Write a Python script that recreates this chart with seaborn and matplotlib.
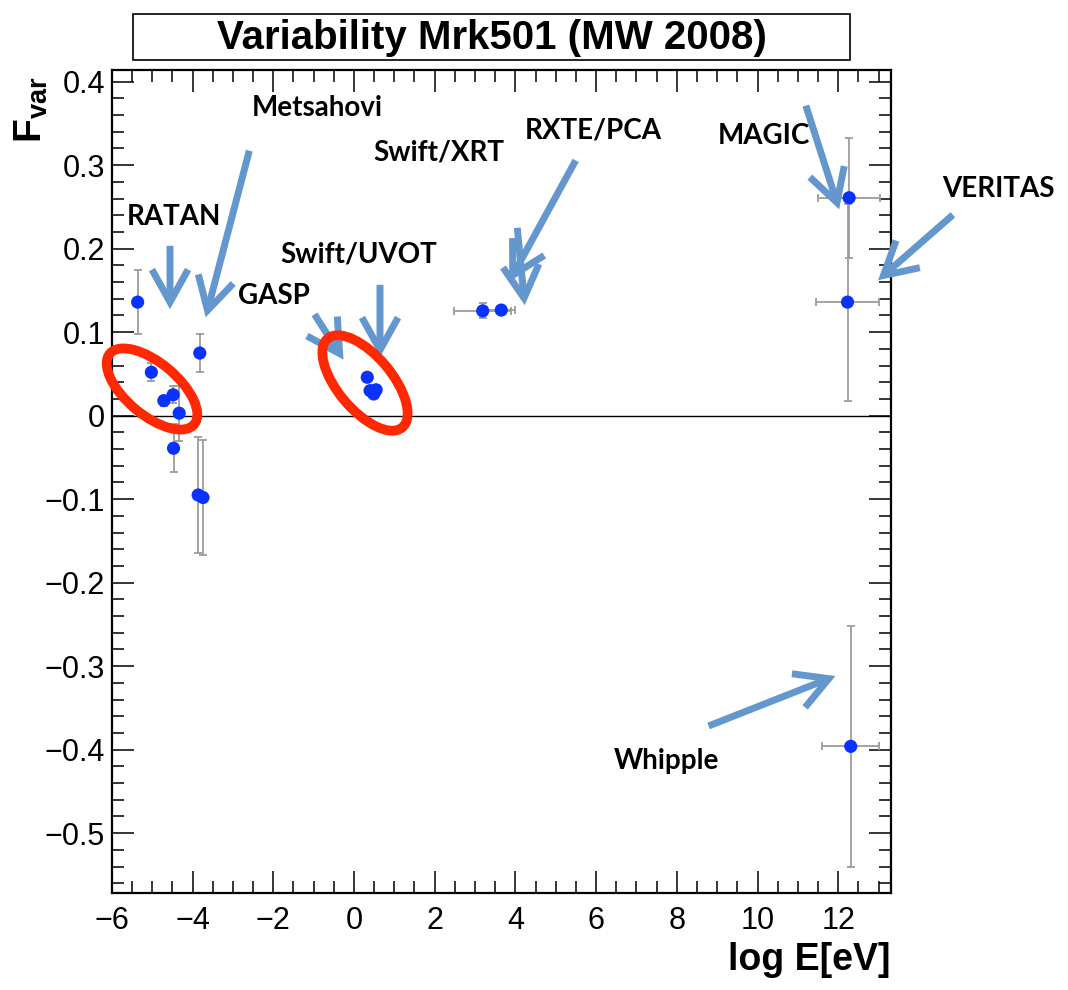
import numpy as np
import pandas as pd
import matplotlib
matplotlib.use('Agg')
import matplotlib.pyplot as plt
from matplotlib import font_manager
from matplotlib.patches import Ellipse, Rectangle, FancyArrowPatch
from matplotlib.transforms import IdentityTransform
from matplotlib.ticker import MultipleLocator, FuncFormatter
import seaborn as sns

sns.set_theme(style='ticks')

names = {f.name for f in font_manager.fontManager.ttflist}
narrow = 'Liberation Sans Narrow' if 'Liberation Sans Narrow' in names else 'Liberation Sans'
plt.rcParams['font.family'] = [narrow, 'DejaVu Sans']
plt.rcParams['mathtext.fontset'] = 'custom'
plt.rcParams['mathtext.bf'] = narrow + ':bold'
plt.rcParams['mathtext.rm'] = narrow
for k in ['text.color', 'axes.labelcolor', 'xtick.color', 'ytick.color']:
    plt.rcParams[k] = 'black'

# data: log E [eV], F_var and errors
# radio (RATAN, Metsahovi)
log_e_radio = [-5.36, -5.02, -4.71, -4.48, -4.33, -4.47, -3.82, -3.86, -3.74]
fvar_radio = [0.136, 0.052, 0.018, 0.025, 0.003, -0.039, 0.075, -0.095, -0.098]
err_radio = [0.038, 0.011, 0.006, 0.010, 0.033, 0.029, 0.023, 0.069, 0.069]
# optical / UV (GASP, Swift/UVOT)
log_e_opt = [0.33, 0.40, 0.55, 0.49]
fvar_opt = [0.046, 0.030, 0.031, 0.026]
err_opt = [0.003, 0.003, 0.003, 0.003]
# X-ray (Swift/XRT, RXTE/PCA)
log_e_xray = [3.19, 3.65]
fvar_xray = [0.1255, 0.1265]
xerr_xray = [0.70, 0.35]
err_xray = [0.009, 0.004]
# VHE (MAGIC, VERITAS, Whipple)
log_e_vhe = [12.27, 12.23, 12.31]
fvar_vhe = [0.261, 0.136, -0.396]
xerr_vhe = [0.77, 0.77, 0.70]
err_vhe = [0.072, 0.118, 0.144]

df = pd.DataFrame({
    'logE': log_e_radio + log_e_opt + log_e_xray + log_e_vhe,
    'fvar': fvar_radio + fvar_opt + fvar_xray + fvar_vhe,
    'xerr': [0] * 9 + [0] * 4 + xerr_xray + xerr_vhe,
    'yerr': err_radio + err_opt + err_xray + err_vhe,
})

W, H = 1068, 990
fig = plt.figure(figsize=(W / 100, H / 100), dpi=100)
ax = fig.add_axes([111.8 / W, 1 - 893.3 / H, (890.7 - 111.8) / W, (893.3 - 70) / H])

ax.axhline(0, color='black', lw=1.0, zorder=1)
ax.errorbar(df['logE'], df['fvar'], xerr=df['xerr'], yerr=df['yerr'], fmt='none',
            ecolor='#9c9c9c', elinewidth=1.3, capsize=3, capthick=1.3, zorder=2)
sns.scatterplot(data=df, x='logE', y='fvar', ax=ax, color='#0a32ff', s=90,
                edgecolor='none', zorder=3)

ax.set_xlim(-6, 13.3)
ax.set_ylim(-0.572, 0.414)
ax.set_xlabel('')
ax.set_ylabel('')
ax.xaxis.set_major_locator(MultipleLocator(2))
ax.xaxis.set_minor_locator(MultipleLocator(0.5))
ax.yaxis.set_major_locator(MultipleLocator(0.1))
ax.yaxis.set_minor_locator(MultipleLocator(0.02))


def fmt_y(v, pos):
    if abs(v) < 1e-9:
        return '0'
    return f'{v:.1f}'.replace('-', '\u2212')


def fmt_x(v, pos):
    return f'{v:.0f}'.replace('-', '\u2212')


ax.yaxis.set_major_formatter(FuncFormatter(fmt_y))
ax.xaxis.set_major_formatter(FuncFormatter(fmt_x))
ax.tick_params(which='both', direction='in', top=True, right=True, labelsize=22,
               colors='black')
ax.tick_params(which='major', length=16, width=1.1)
ax.tick_params(which='minor', length=8.5, width=1.1)
ax.tick_params(axis='y', pad=5)
ax.tick_params(axis='x', pad=9)
for s in ax.spines.values():
    s.set_linewidth(1.6)
    s.set_color('black')


def ff(px, py):
    return (px / W, 1 - py / H)


# title box
fig.add_artist(Rectangle(ff(133, 60), 717 / W, 46 / H, transform=fig.transFigure,
                         fill=False, edgecolor='black', lw=1.2))
fig.text(*ff(491.5, 38), 'Variability Mrk501 (MW 2008)', ha='center', va='center',
         fontsize=29, fontweight='bold')

# axis titles
fig.text(*ff(31, 76), r'$\mathbf{F_{var}}$', rotation=90, ha='center', va='top', fontsize=28)
fig.text(*ff(890, 960), 'log E[eV]', ha='right', va='center', fontsize=27,
         fontweight='bold')

# instrument labels
labels = [
    ('Metsahovi', 252, 108), ('RATAN', 127, 217), ('Swift/XRT', 373, 153),
    ('RXTE/PCA', 525, 130), ('MAGIC', 718, 136), ('VERITAS', 942, 189),
    ('Swift/UVOT', 280, 255), ('GASP', 238, 296), ('Whipple', 614, 761),
]
for txt, px, py in labels:
    fig.text(*ff(px, py), txt, ha='left', va='center', fontsize=20,
             fontweight='bold', family=['Lato', 'DejaVu Sans'])

# arrows (tail -> head)
arrows = [
    ((250, 148), (205, 320)), ((170, 243), (170, 312)), ((517, 225), (525, 308)),
    ((577, 158), (508, 284)), ((805, 103), (840, 212)), ((955, 213), (876, 282)),
    ((380, 282), (380, 360)), ((313, 312), (345, 362)), ((706, 727), (838, 675)),
]
for tail, head in arrows:
    fig.add_artist(FancyArrowPatch(
        ff(*tail), ff(*head), transform=fig.transFigure,
        arrowstyle='->,head_length=0.9,head_width=0.5', mutation_scale=26,
        lw=5, color='#6497cd', capstyle='butt', joinstyle='miter'))

# red ellipses
for cx, cy, w, h, ang in [(152, 389, 110, 52, -40), (365, 383, 116, 54, -50)]:
    fig.add_artist(Ellipse((cx, H - cy), w, h, angle=ang, transform=IdentityTransform(),
                           fill=False, edgecolor='#ff2800', lw=7))

fig.savefig('out.png', dpi=100)
